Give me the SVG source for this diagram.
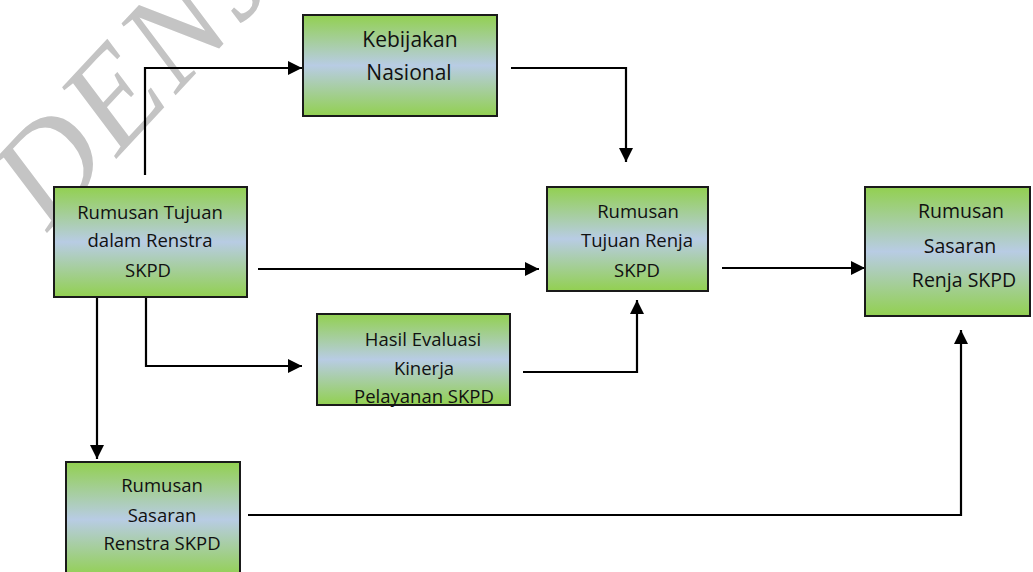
<svg xmlns="http://www.w3.org/2000/svg" width="1033" height="572" viewBox="0 0 1033 572">
<style>
.box{stroke:#1a1a1a;stroke-width:2;fill:url(#g)}
.t{font-family:"Open Sans","Liberation Sans",sans-serif;font-size:18.5px;fill:#111;text-anchor:middle}
.tk{font-family:"Open Sans","Liberation Sans",sans-serif;font-size:21px;fill:#111;text-anchor:middle}
.tl{font-family:"Open Sans","Liberation Sans",sans-serif;font-size:19.5px;fill:#111;text-anchor:middle}
.c{fill:none;stroke:#000;stroke-width:2.2}
.wm{font-family:"Liberation Serif",serif;font-style:italic;font-size:135px;fill:#c4c4c4}
</style>
<defs>
<linearGradient id="g" x1="0" y1="0" x2="0" y2="1">
<stop offset="0" stop-color="#92d050"/>
<stop offset="0.5" stop-color="#b8cce4"/>
<stop offset="1" stop-color="#92d050"/>
</linearGradient>
<marker id="ah" viewBox="0 0 14 14" refX="14" refY="7" markerWidth="14" markerHeight="14" orient="auto" markerUnits="userSpaceOnUse">
<path d="M0,0 L14,7 L0,14 Z" fill="#000"/>
</marker>
</defs>
<rect width="1033" height="572" fill="#fff"/>
<g id="watermark">
<text class="wm" transform="translate(48,232) rotate(-47)" letter-spacing="4">DENJ</text>
</g>
<g id="connectors">
<path class="c" d="M145,175 V68 H302" marker-end="url(#ah)"/>
<path class="c" d="M511,68 H626 V162" marker-end="url(#ah)"/>
<path class="c" d="M258,269 H539" marker-end="url(#ah)"/>
<path class="c" d="M722,268 H865" marker-end="url(#ah)"/>
<path class="c" d="M146,298 V366 H302" marker-end="url(#ah)"/>
<path class="c" d="M523,372 H637 V300" marker-end="url(#ah)"/>
<path class="c" d="M97,298 V459" marker-end="url(#ah)"/>
<path class="c" d="M248,515 H961 V330" marker-end="url(#ah)"/>
</g>
<g id="kebijakan">
<rect class="box" x="303" y="15" width="194" height="101"/>
<text class="tk" x="410" y="47">Kebijakan</text>
<text class="tk" x="409" y="80">Nasional</text>
</g>
<g id="tujuan-renstra">
<rect class="box" x="54" y="187" width="193" height="110"/>
<text class="t" x="150" y="219">Rumusan Tujuan</text>
<text class="t" x="150" y="247">dalam Renstra</text>
<text class="t" x="148" y="277">SKPD</text>
</g>
<g id="tujuan-renja">
<rect class="box" x="547" y="187" width="161" height="104"/>
<text class="t" x="638" y="218">Rumusan</text>
<text class="t" x="637" y="247">Tujuan Renja</text>
<text class="t" x="637" y="277">SKPD</text>
</g>
<g id="sasaran-renja">
<rect class="box" x="865" y="187" width="165" height="129"/>
<text class="tl" x="961" y="218">Rumusan</text>
<text class="tl" x="960" y="253">Sasaran</text>
<text class="tl" x="964" y="287">Renja SKPD</text>
</g>
<g id="hasil-evaluasi">
<rect class="box" x="317" y="314" width="193" height="91"/>
<text class="t" x="423" y="346">Hasil Evaluasi</text>
<text class="t" x="424" y="375">Kinerja</text>
<text class="t" x="424" y="403">Pelayanan SKPD</text>
</g>
<g id="sasaran-renstra">
<rect class="box" x="66" y="462" width="174" height="115"/>
<text class="t" x="162" y="492">Rumusan</text>
<text class="t" x="162" y="522">Sasaran</text>
<text class="t" x="162" y="550">Renstra SKPD</text>
</g>
</svg>
